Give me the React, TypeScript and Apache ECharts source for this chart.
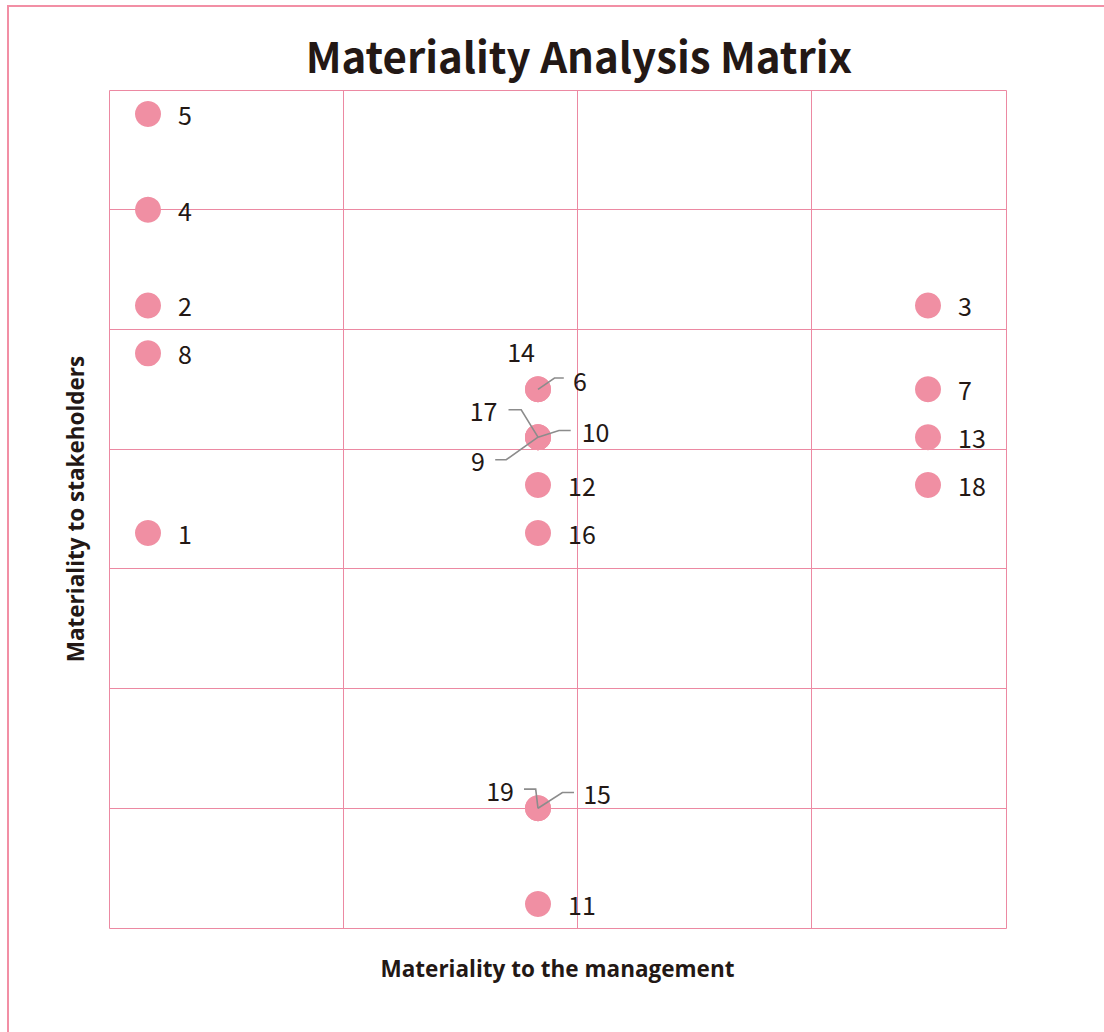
import React, { useEffect, useRef } from "react";
import * as echarts from "echarts";

// Issue numbers and their positions
const issueNames = ["1", "2", "3", "4", "5", "6", "7", "8", "9", "10", "11", "12", "13", "14", "15", "16", "17", "18", "19"];
// Materiality to the management (x)
const managementValues = [1, 1, 21, 1, 1, 11, 21, 1, 11, 11, 11, 11, 21, 11, 11, 11, 11, 21, 11];
// Materiality to stakeholders (y)
const stakeholderValues = [8.25, 13, 13, 15, 17, 11.25, 11.25, 12, 10.25, 10.25, 0.5, 9.25, 10.25, 11.25, 2.5, 8.25, 10.25, 9.25, 2.5];

// axis extents and grid-line positions
const xTicks = { min: 0, max: 23, interval: 6 };
const yTicks = { min: 0, max: 17.5, interval: 2.5 };
const xGridValues = [0, 6, 12, 18, 23];
const yGridValues = [0, 2.5, 5, 7.5, 10, 12.5, 15, 17.5];

const FONT = "'Noto Sans CJK JP', 'Noto Sans', sans-serif";
const NAME_FONT = "'Open Sans', 'Noto Sans', sans-serif";
const TEXT = "#231815";
const DOT = "#f08fa3";
const GRID = "#ec89a2";

// label placement for overlapping points (pixel offsets from dot centre)
const labelOffsets: Record<string, number[]> = {
  "14": [-17, -38],
  "6": [42, -9.5],
  "17": [-54.5, -27.4],
  "10": [57.5, -6.4],
  "9": [-60, 22.8],
  "19": [-38, -18],
  "15": [59, -15],
};
const leaderLines: Record<string, number[][]> = {
  "6": [[0, 0], [16.5, -11.3], [25.8, -11.3]],
  "17": [[-29.5, -27.4], [-16.8, -27.4], [0, 0]],
  "10": [[0, 0], [21, -6.7], [32.7, -6.7]],
  "9": [[0, 0], [-31.8, 22.6], [-42.8, 22.6]],
  "19": [[-14, -19.2], [-2.3, -19.2], [0, 0]],
  "15": [[0, 0], [24.4, -15.8], [36, -15.8]],
};

const crisp = (v: number) => Math.round(v) + 0.5;

export default function App() {
  const ref = useRef<HTMLDivElement>(null);
  useEffect(() => {
    if (!ref.current) return;
    const chart = echarts.init(ref.current, null, { renderer: "svg" });

    const scatterData = issueNames.map((name, i) => {
      const off = labelOffsets[name];
      const item: any = { name, value: [managementValues[i], stakeholderValues[i]] };
      if (off) {
        item.label = { position: "inside", offset: off, align: "center", verticalAlign: "middle" };
      }
      return item;
    });

    const leaderIds = Object.keys(leaderLines);
    const leaderData = leaderIds.map((id) => {
      const i = issueNames.indexOf(id);
      return { name: id, value: [managementValues[i], stakeholderValues[i]] };
    });

    // grid lines: [orientation(0 = vertical, 1 = horizontal), value]
    const gridData = [
      ...xGridValues.map((v) => [0, v]),
      ...yGridValues.map((v) => [1, v]),
    ];

    const axisCommon = {
      type: "value",
      nameLocation: "middle",
      nameTextStyle: { fontFamily: NAME_FONT, fontSize: 22.5, fontWeight: "bold", color: TEXT },
      axisLine: { show: false },
      axisTick: { show: false },
      axisLabel: { show: false },
      splitLine: { show: false },
      splitArea: { show: false },
    };

    chart.setOption({
      animation: false,
      backgroundColor: "#ffffff",
      title: {
        text: "Materiality Analysis Matrix",
        left: 574,
        top: 28,
        textAlign: "center",
        textStyle: { fontFamily: FONT, fontSize: 42, fontWeight: "bold", color: TEXT },
      },
      graphic: [
        {
          type: "rect",
          shape: { x: 8, y: 6, width: 1200, height: 1200 },
          style: { fill: "none", stroke: "#f28fa5", lineWidth: 2 },
          silent: true,
          z: -10,
        },
      ],
      grid: {
        left: 109,
        top: 90,
        right: 98,
        bottom: 104,
        show: false,
      },
      xAxis: {
        ...axisCommon,
        min: xTicks.min,
        max: xTicks.max,
        interval: xTicks.interval,
        name: "Materiality to the management",
        nameGap: 29,
      },
      yAxis: {
        ...axisCommon,
        min: yTicks.min,
        max: yTicks.max,
        interval: yTicks.interval,
        name: "Materiality to stakeholders",
        nameGap: 22,
      },
      series: [
        {
          type: "custom",
          z: 1,
          silent: true,
          clip: false,
          data: gridData,
          renderItem: (params: any, api: any) => {
            const orient = api.value(0);
            const v = api.value(1);
            if (orient === 0) {
              const p1 = api.coord([v, yTicks.min]);
              const p2 = api.coord([v, yTicks.max]);
              const x = crisp(p1[0] - 0.5);
              return {
                type: "line",
                shape: { x1: x, y1: Math.round(p1[1]) + 0.5, x2: x, y2: Math.round(p2[1]) + 0.5 },
                style: { stroke: GRID, lineWidth: 1 },
              };
            }
            const p1 = api.coord([xTicks.min, v]);
            const p2 = api.coord([xTicks.max, v]);
            const y = crisp(p1[1] - 0.5);
            return {
              type: "line",
              shape: { x1: Math.round(p1[0]) + 0.5, y1: y, x2: Math.round(p2[0]) + 0.5, y2: y },
              style: { stroke: GRID, lineWidth: 1 },
            };
          },
        },
        {
          type: "scatter",
          symbol: "circle",
          symbolSize: 26,
          itemStyle: { color: DOT, opacity: 1 },
          z: 2,
          label: {
            show: true,
            position: "right",
            distance: 17,
            formatter: "{b}",
            fontFamily: FONT,
            fontSize: 25,
            color: TEXT,
          },
          emphasis: { disabled: true },
          data: scatterData,
        },
        {
          type: "custom",
          z: 5,
          silent: true,
          clip: false,
          data: leaderData,
          renderItem: (params: any, api: any) => {
            const id = leaderIds[params.dataIndex];
            const c = api.coord([api.value(0), api.value(1)]);
            const pts = leaderLines[id].map((p) => [c[0] + p[0], c[1] + p[1]]);
            return {
              type: "polyline",
              shape: { points: pts },
              style: { stroke: "#8c8c8c", lineWidth: 1.6, fill: "none" },
            };
          },
        },
      ],
    });
    return () => chart.dispose();
  }, []);

  return (
    <div
      ref={ref}
      style={{ position: "fixed", left: 0, top: 0, width: 1104, height: 1032 }}
    />
  );
}
